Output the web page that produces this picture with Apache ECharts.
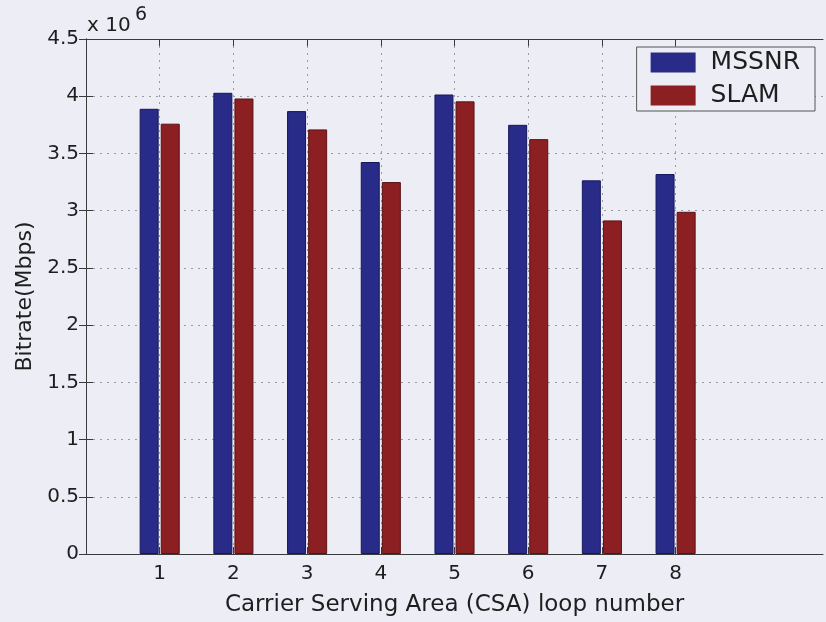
<!DOCTYPE html>
<html>
<head>
<meta charset="utf-8">
<script src="https://cdn.jsdelivr.net/npm/echarts@6/dist/echarts.min.js"></script>
<style>
  html, body { margin: 0; padding: 0; background: #ecedf5; }
  #barChart { width: 826px; height: 622px; }
</style>
</head>
<body>
<div id="barChart"></div>
<script>
// loop numbers on the x axis
var loops = [1, 2, 3, 4, 5, 6, 7, 8];
// bitrates (bps)
var mssnr = [3.89e6, 4.03e6, 3.87e6, 3.425e6, 4.015e6, 3.75e6, 3.265e6, 3.32e6];
var slam = [3.76e6, 3.98e6, 3.71e6, 3.25e6, 3.955e6, 3.625e6, 2.915e6, 2.99e6];
var seriesNames = ['MSSNR', 'SLAM'];

var fontName = 'DejaVu Sans';
var axisColor = '#3a3a3a';
var gridColor = '#9a9aa6';

var chart = echarts.init(document.getElementById('barChart'));

function pairs(vals) {
  return loops.map(function (x, i) { return [x, vals[i]]; });
}

var baseX = {
  type: 'value',
  min: 0,
  max: 10,
  interval: 1,
  axisLine: { show: true, onZero: false, lineStyle: { color: axisColor, width: 1 } },
  axisTick: { show: true, inside: true, length: 7, customValues: loops, lineStyle: { color: axisColor } },
  splitLine: { show: false }
};

var baseY = {
  type: 'value',
  min: 0,
  max: 4.5e6,
  interval: 0.5e6,
  axisLine: { show: true, lineStyle: { color: axisColor, width: 1 } },
  axisTick: { show: true, inside: true, length: 7, lineStyle: { color: axisColor } },
  splitLine: { show: false }
};

var option = {
  backgroundColor: '#ecedf5',
  animation: false,
  textStyle: { fontFamily: fontName },
  grid: { left: 86, right: 3, top: 39, bottom: 62, containLabel: false },
  legend: {
    data: seriesNames,
    orient: 'vertical',
    right: 11,
    top: 47,
    itemWidth: 45,
    itemHeight: 20,
    itemGap: 8,
    padding: [3, 15, 3, 14],
    borderColor: '#555',
    borderWidth: 1,
    borderRadius: 0,
    backgroundColor: '#ecedf5',
    icon: 'rect',
    itemStyle: { borderWidth: 0 },
    textStyle: { fontFamily: fontName, fontSize: 25, lineHeight: 22, color: '#1e1e1e', padding: [0, 0, 0, 10] }
  },
  graphic: [
    { type: 'text', left: 87, top: 16, style: { text: 'x 10', fontFamily: fontName, fontSize: 20, fill: '#1e1e1e' } },
    { type: 'text', left: 135, top: 6, style: { text: '6', fontFamily: fontName, fontSize: 19, fill: '#1e1e1e' } }
  ],
  xAxis: [
    Object.assign({}, baseX, {
      position: 'bottom',
      name: 'Carrier Serving Area (CSA) loop number',
      nameLocation: 'middle',
      nameGap: 40,
      nameTextStyle: { fontFamily: fontName, fontSize: 23, color: '#1e1e1e' },
      axisLabel: { show: true, customValues: loops, margin: 10, fontFamily: fontName, fontSize: 20, color: '#1e1e1e' },
      splitLine: { show: true, lineStyle: { color: gridColor, type: [2, 5], width: 1 } }
    }),
    Object.assign({}, baseX, {
      position: 'top',
      axisLabel: { show: false }
    })
  ],
  yAxis: [
    Object.assign({}, baseY, {
      position: 'left',
      name: 'Bitrate(Mbps)',
      nameLocation: 'middle',
      nameGap: 50,
      nameTextStyle: { fontFamily: fontName, fontSize: 22, color: '#1e1e1e' },
      axisLabel: {
        show: true,
        margin: 7,
        fontFamily: fontName,
        fontSize: 20,
        color: '#1e1e1e',
        formatter: function (v) { return String(Math.round(v / 1e5) / 10); }
      },
      splitLine: { show: true, lineStyle: { color: gridColor, type: [2, 5], width: 1 } }
    }),
    Object.assign({}, baseY, {
      position: 'right',
      axisLabel: { show: false }
    })
  ],
  series: [
    {
      name: seriesNames[0],
      type: 'bar',
      xAxisIndex: 0,
      yAxisIndex: 0,
      barWidth: 19,
      barGap: '11%',
      itemStyle: { color: '#282c88', borderColor: '#15175a', borderWidth: 1 },
      data: pairs(mssnr)
    },
    {
      name: seriesNames[1],
      type: 'bar',
      xAxisIndex: 0,
      yAxisIndex: 0,
      barWidth: 19,
      barGap: '11%',
      itemStyle: { color: '#8c1f22', borderColor: '#5a1214', borderWidth: 1 },
      data: pairs(slam)
    }
  ]
};

chart.setOption(option);
window.addEventListener('resize', function () {
  chart.resize();
});
</script>
</body>
</html>
